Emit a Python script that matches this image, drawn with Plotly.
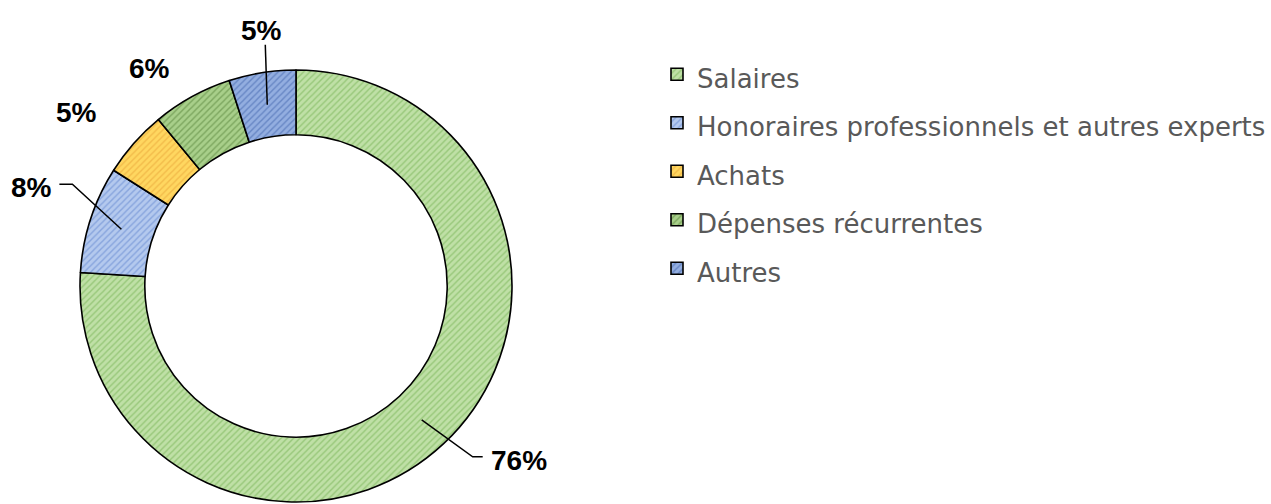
import math
import plotly.graph_objects as go

# ---- data ----
categories = ["Salaires", "Honoraires professionnels et autres experts", "Achats",
              "Dépenses récurrentes", "Autres"]
values = [76, 8, 5, 6, 5]
bg_colors = ["#bfe0a6", "#b4c9ee", "#ffd760", "#a8cf8a", "#93aee0"]
fg_colors = ["#6fae4c", "#5a80cc", "#e6a033", "#4f7d33", "#3b5ea8"]

# ---- layout constants (pixels) ----
W, H = 1271, 504
CX, CY, R = 296, 286, 216
HOLE = 0.70

fig = go.Figure(go.Pie(
    labels=[f"<span style='font-size:26px'>{c}</span>" for c in categories],
    values=values,
    sort=False,
    direction="clockwise",
    rotation=0,
    hole=HOLE,
    textinfo="none",
    hoverinfo="label+percent",
    marker=dict(
        colors=bg_colors,
        line=dict(color="#000000", width=1.6),
        pattern=dict(shape="/", fgcolor=fg_colors, bgcolor=bg_colors,
                     size=4.5, solidity=0.32, fillmode="overlay"),
    ),
    domain=dict(x=[(CX - R) / W, (CX + R) / W], y=[1 - (CY + R) / H, 1 - (CY - R) / H]),
))

# label placement relative to slice anchor (pixels):
# label centre offset, and leader line (elbow, end) offsets or None
label_off = [(97, 41), (-90, -42), (-82, -52), (-58, -57), (-6, -74)]
leaders = [((51, 37), (61, 37)), ((-49, -45), (-62, -45)), None, None, ((-2, -60), (-2, -60))]


def to_paper(px, py):
    return px / W, 1 - py / H


total = sum(values)
cum = 0
rmid = R * (1 + HOLE) / 2
annotations, shapes = [], []
for v, (dx, dy), lead in zip(values, label_off, leaders):
    mid = (cum + v / 2) / total * 2 * math.pi
    cum += v
    px = CX + rmid * math.sin(mid)
    py = CY - rmid * math.cos(mid)
    lx, ly = to_paper(px + dx, py + dy)
    annotations.append(dict(
        x=lx, y=ly, xref="paper", yref="paper", showarrow=False,
        xanchor="center", yanchor="middle",
        text=f"<b>{round(v / total * 100)}%</b>",
        font=dict(family="Liberation Sans, Arial, sans-serif", size=28, color="#000000")))
    if lead:
        pts = [to_paper(px, py)] + [to_paper(px + ex, py + ey) for ex, ey in lead]
        path = "M " + " L ".join(f"{x:.5f},{y:.5f}" for x, y in pts)
        shapes.append(dict(type="path", xref="paper", yref="paper", path=path,
                           line=dict(color="#000000", width=1.5)))

fig.update_layout(
    width=W, height=H,
    margin=dict(l=0, r=0, t=0, b=0),
    paper_bgcolor="#ffffff",
    plot_bgcolor="#ffffff",
    showlegend=True,
    legend=dict(x=657 / W, y=1 - 45 / H, xanchor="left", yanchor="top",
                font=dict(family="DejaVu Sans, Open Sans, sans-serif", size=35, color="#595959"),
                bgcolor="rgba(0,0,0,0)"),
    annotations=annotations,
    shapes=shapes,
)

fig.write_html("out.html", config={"displayModeBar": False},
               post_script="document.body.style.margin='0px';")
